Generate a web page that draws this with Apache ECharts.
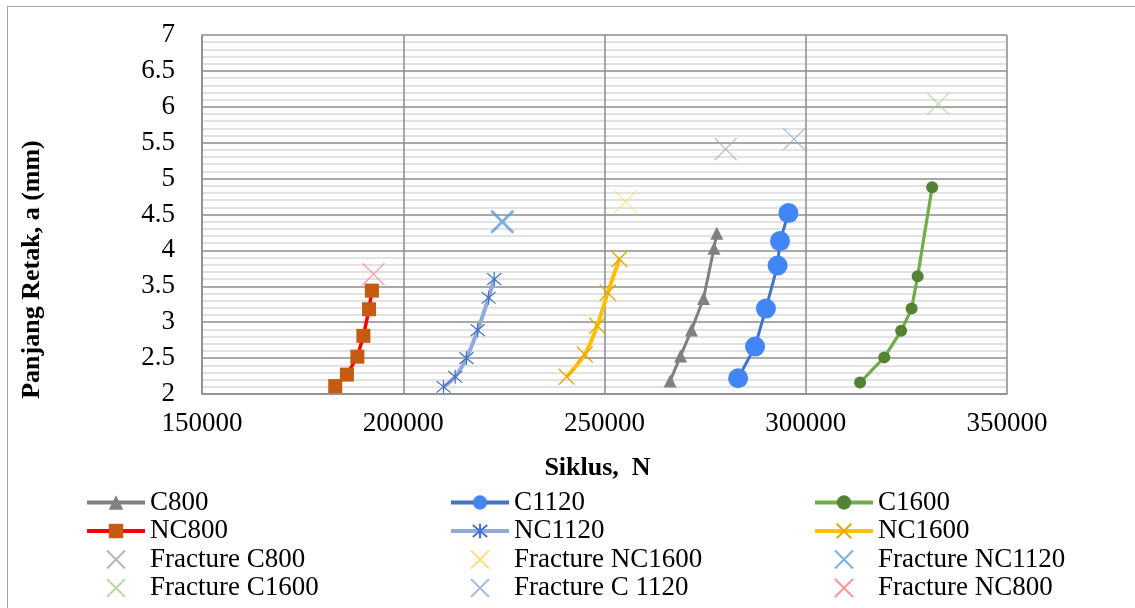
<!DOCTYPE html>
<html>
<head>
<meta charset="utf-8">
<script src="https://cdn.jsdelivr.net/npm/echarts@6/dist/echarts.min.js"></script>
<style>
  html, body { margin: 0; padding: 0; background: #fff; }
  #frame { position: absolute; left: 7px; top: 6px; right: -2px; bottom: -2px; border-left: 1px solid #a6a6a6; border-top: 1px solid #a6a6a6; }
  #main { position: absolute; left: 0; top: 0; width: 1135px; height: 608px; }
</style>
</head>
<body>
<div id="frame"></div>
<div id="main"></div>
<script>
// siklus (N) dan panjang retak (mm)
var c800X = [266300, 268900, 271600, 274600, 277200, 277900];
var c800Y = [2.18, 2.53, 2.89, 3.33, 4.03, 4.24];
var c1120X = [283200, 287400, 290100, 293000, 293600, 295700];
var c1120Y = [2.22, 2.66, 3.19, 3.79, 4.13, 4.52];
var c1600X = [313500, 319500, 323700, 326300, 327800, 331400];
var c1600Y = [2.16, 2.51, 2.88, 3.19, 3.64, 4.88];
var nc800X = [183100, 186000, 188600, 190100, 191500, 192200];
var nc800Y = [2.11, 2.27, 2.52, 2.81, 3.18, 3.44];
var nc1120X = [210000, 212900, 215700, 218500, 221200, 222600];
var nc1120Y = [2.10, 2.24, 2.50, 2.89, 3.34, 3.60];
var nc1600X = [240600, 245100, 248200, 250800, 253700];
var nc1600Y = [2.24, 2.55, 2.95, 3.41, 3.88];

// titik patah
var fracC800 = [280100, 5.41];
var fracNC1600 = [255200, 4.68];
var fracNC1120 = [224600, 4.40];
var fracC1600 = [332900, 6.04];
var fracC1120 = [297100, 5.55];
var fracNC800 = [192600, 3.67];

var xTicks = [150000, 200000, 250000, 300000, 350000];
var yTicks = [2, 2.5, 3, 3.5, 4, 4.5, 5, 5.5, 6, 6.5, 7];

var X_PATH = 'path://M0 0 L10 10 M10 0 L0 10';
var STAR_PATH = 'path://M0 0 L10 10 M10 0 L0 10 M5 -1 L5 11';
var FONT = '"Liberation Serif", "Times New Roman", serif';

function zip(xs, ys) {
  var out = [];
  for (var i = 0; i < xs.length; i++) out.push([xs[i], ys[i]]);
  return out;
}

function lineSeries(name, xs, ys, lineColor, width, symbol, size, itemStyle, smooth) {
  return {
    name: name,
    type: 'line',
    data: zip(xs, ys),
    symbol: symbol,
    symbolSize: size,
    smooth: smooth || false,
    lineStyle: { color: lineColor, width: width },
    itemStyle: itemStyle,
    z: 3
  };
}

function fracture(name, pt, color, width) {
  return {
    name: name,
    type: 'scatter',
    data: [pt],
    symbol: X_PATH,
    symbolSize: 22,
    itemStyle: { color: 'none', borderColor: color, borderWidth: width || 1.2 },
    z: 4
  };
}

var chart = echarts.init(document.getElementById('main'), null, { renderer: 'canvas' });

var legendBase = {
  orient: 'vertical',
  top: 489,
  height: 119,
  padding: 0,
  itemWidth: 58,
  itemHeight: 18,
  itemGap: 1.5,
  symbolKeepAspect: true,
  lineStyle: { width: 4 },
  textStyle: { fontFamily: FONT, fontSize: 27, color: '#000', lineHeight: 27, padding: [0, 0, 0, 0] },
  selectedMode: false
};

var option = {
  backgroundColor: 'transparent',
  animation: false,
  grid: { left: 202, right: 128, top: 35, bottom: 214 },
  xAxis: {
    type: 'value',
    min: xTicks[0],
    max: xTicks[xTicks.length - 1],
    interval: 50000,
    name: 'Siklus,  N',
    nameLocation: 'middle',
    nameGap: 61,
    nameTextStyle: { fontFamily: FONT, fontSize: 26, fontWeight: 'bold', color: '#000', padding: [0, 14, 0, 0] },
    axisLine: { show: true, lineStyle: { color: '#8c8c8c', width: 1.5 } },
    axisTick: { show: false },
    axisLabel: { fontFamily: FONT, fontSize: 27, color: '#000', margin: 16,
      formatter: function (v) { return String(v); } },
    splitLine: { show: true, lineStyle: { color: '#8c8c8c', width: 1.5 } }
  },
  yAxis: {
    type: 'value',
    min: yTicks[0],
    max: yTicks[yTicks.length - 1],
    interval: 0.5,
    name: 'Panjang Retak, a (mm)',
    nameLocation: 'middle',
    nameGap: 157,
    nameTextStyle: { fontFamily: FONT, fontSize: 26, fontWeight: 'bold', color: '#000', padding: [0, 110, 0, 0] },
    axisLine: { show: true, lineStyle: { color: '#8c8c8c', width: 1.5 } },
    axisTick: { show: false },
    axisLabel: { fontFamily: FONT, fontSize: 27, color: '#000', margin: 27 },
    splitLine: { show: true, lineStyle: { color: '#8c8c8c', width: 1.5 } },
    minorTick: { show: false, splitNumber: 5 },
    minorSplitLine: { show: true, lineStyle: { color: '#d9d9d9', width: 1.5 } }
  },
  legend: [
    Object.assign({}, legendBase, { left: 85, data: ['C800', 'NC800', 'Fracture C800', 'Fracture C1600'] }),
    Object.assign({}, legendBase, { left: 449, data: ['C1120', 'NC1120', 'Fracture NC1600', 'Fracture C 1120'] }),
    Object.assign({}, legendBase, { left: 813, data: ['C1600', 'NC1600', 'Fracture NC1120', 'Fracture NC800'] })
  ],
  series: [
    lineSeries('C800', c800X, c800Y, '#808080', 3, 'triangle', 13, { color: '#808080' }),
    lineSeries('C1120', c1120X, c1120Y, '#4472c4', 3, 'circle', 20, { color: '#4285f4' }),
    lineSeries('C1600', c1600X, c1600Y, '#70ad47', 3.2, 'circle', 12, { color: '#548235' }),
    lineSeries('NC800', nc800X, nc800Y, '#ff0000', 3.5, 'rect', 14, { color: '#c55a11' }),
    lineSeries('NC1120', nc1120X, nc1120Y, '#8faadc', 4, STAR_PATH, 14,
      { color: 'none', borderColor: '#4472c4', borderWidth: 1.2 }, 0.3),
    lineSeries('NC1600', nc1600X, nc1600Y, '#ffc000', 4, X_PATH, 16,
      { color: 'none', borderColor: '#e0a800', borderWidth: 1.2 }, 0.3),
    fracture('Fracture C800', fracC800, '#a5a5a5'),
    fracture('Fracture NC1600', fracNC1600, '#ffd966'),
    fracture('Fracture NC1120', fracNC1120, '#5b9bd5', 2.8),
    fracture('Fracture C1600', fracC1600, '#a9d18e'),
    fracture('Fracture C 1120', fracC1120, '#8faadc'),
    fracture('Fracture NC800', fracNC800, '#ff7c80')
  ]
};

chart.setOption(option);
</script>
</body>
</html>
